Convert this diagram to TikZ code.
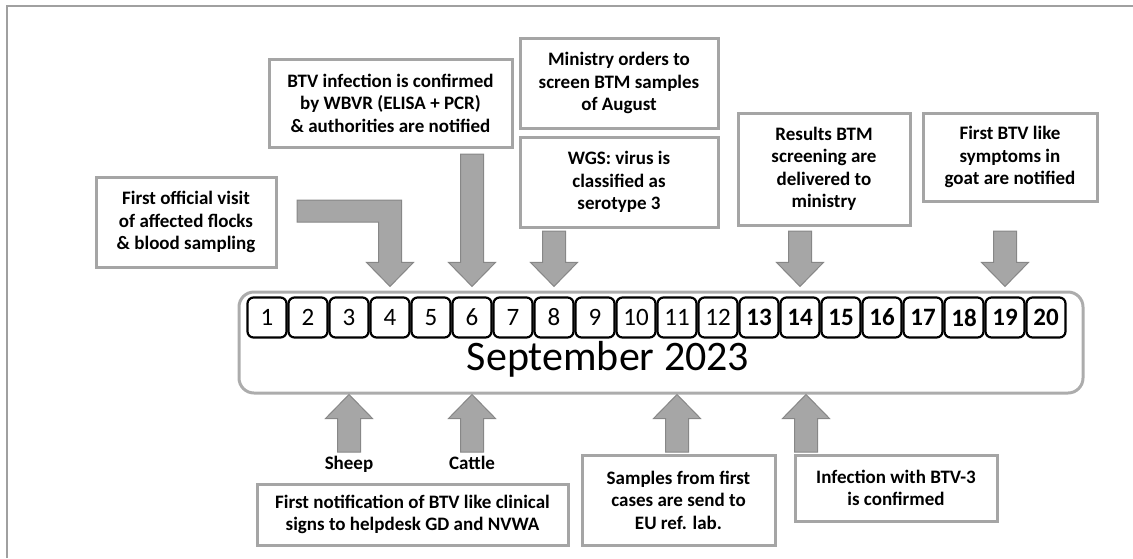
\documentclass[tikz,border=0pt]{standalone}
\usepackage{fontspec}
\setmainfont{Carlito}
\usetikzlibrary{calc}

\definecolor{framegray}{RGB}{160,160,160}
\definecolor{boxgray}{RGB}{165,165,165}
\definecolor{tlgray}{RGB}{172,172,172}
\definecolor{arrfill}{RGB}{166,166,166}
\definecolor{arrline}{RGB}{135,135,135}

\newcommand{\dayfont}{\fontsize{25}{30}\selectfont}
\newcommand{\notefont}{\bfseries\fontsize{19}{22.5}\selectfont}

% block arrow pointing down onto a day, tail at pixel height #2
\newcommand{\arrdown}[2]{%
  \coordinate (tl) at (#1.north |- 0,#2);
  \coordinate (tp) at ($(#1.north)+(0,-10)$);
  \draw[blockarr] ($(tl)+(-11.5,0)$) -- ($(tp)+(-11.5,-24)$) -- ($(tp)+(-23.5,-24)$) -- (tp)
    -- ($(tp)+(23.5,-24)$) -- ($(tp)+(11.5,-24)$) -- ($(tl)+(11.5,0)$) -- cycle;}
% block arrow pointing up onto the timeline under a day
\newcommand{\arrup}[3]{%
  \coordinate (tp) at ($(tline.south -| #1)+(#2,0)$);
  \coordinate (tl) at (tp |- 0,#3);
  \draw[blockarr] ($(tl)+(-11.5,0)$) -- ($(tp)+(-11.5,24)$) -- ($(tp)+(-23.5,24)$) -- (tp)
    -- ($(tp)+(23.5,24)$) -- ($(tp)+(11.5,24)$) -- ($(tl)+(11.5,0)$) -- cycle;}

\begin{document}
\begin{tikzpicture}[x=1pt,y=-1pt,
    note/.style={draw=boxgray, line width=3, fill=white, align=center, inner sep=0, font=\notefont},
    daybox/.style={draw, line width=2.2, fill=white, rounded corners=6, minimum width=39, minimum height=40, inner sep=0},
    blockarr/.style={fill=arrfill, draw=arrline, line width=1},
    lbl/.style={font=\notefont, inner sep=1}]
    \def\dayy{317.5}
    \def\pitch{41}
    \useasboundingbox (0,0) rectangle (1133,558);
    \draw[framegray, line width=2] (7,558) -- (7,6) -- (1133,6);

    \node[draw=tlgray, line width=3, rounded corners=15, minimum width=844, minimum height=101] (tline) at (661,342.5) {};
    \node[anchor=base, font=\fontsize{42}{48}\selectfont] (month) at (608,370) {September 2023};
    \foreach \i in {1,...,12}{
        \pgfmathsetmacro\dx{267+(\i-1)*\pitch}
        \node[daybox, font=\dayfont] (d\i) at (\dx,\dayy) {\i};
    }
    \foreach \i in {13,...,20}{
        \pgfmathsetmacro\dx{267+(\i-1)*\pitch}
        \node[daybox, font=\dayfont\bfseries] (d\i) at (\dx,\dayy) {\i};
    }

    \node[note, minimum width=180, minimum height=90] (visit) at (186,222) {First official visit\\of affected flocks\\\& blood sampling};
    \node[note, minimum width=243, minimum height=88] (btv) at (390.5,103) {BTV infection is confirmed\\by WBVR (ELISA + PCR)\\\& authorities are notified};
    \node[note, minimum width=198, minimum height=90] (ministry) at (619,83) {Ministry orders to\\screen BTM samples\\of August};
    \node[note, minimum width=198, minimum height=90] (wgs) at (619,182) {WGS: virus is\\classified as\\serotype 3};
    \node[note, minimum width=172, minimum height=112] (results) at (824,169) {Results BTM\\screening are\\delivered to\\ministry};
    \node[note, minimum width=174, minimum height=88] (goat) at (1010,157) {First BTV like\\symptoms in\\goat are notified};
    \node[note, minimum width=311, minimum height=61] (notif) at (412.5,514.5) {First notification of BTV like clinical\\signs to helpdesk GD and NVWA};
    \node[note, minimum width=193, minimum height=90] (samples) at (678.5,500) {Samples from first\\cases are send to\\EU ref. lab.};
    \node[note, minimum width=202, minimum height=66] (infect) at (896,488) {Infection with BTV-3\\is confirmed};

    \coordinate (bt) at ($(d4.north)+(0,-10)$);
    \draw[blockarr] (297,200) -- ($(bt |- 0,200)+(11.5,0)$) -- ($(bt)+(11.5,-24)$) -- ($(bt)+(23.5,-24)$) -- (bt)
        -- ($(bt)+(-23.5,-24)$) -- ($(bt)+(-11.5,-24)$) -- ($(bt |- 0,222)+(-11.5,0)$) -- (297,222) -- cycle;
    \arrdown{d6}{154}
    \arrdown{d8}{231}
    \arrdown{d14}{231}
    \arrdown{d19}{231}

    \arrup{d3}{0}{452}
    \arrup{d6}{0}{452}
    \arrup{d11}{0}{452}
    \arrup{d14}{6}{452}
    \node[lbl, anchor=north] (sheep) at ($(tline.south -| d3)+(0,60)$) {Sheep};
    \node[lbl, anchor=north] (cattle) at ($(tline.south -| d6)+(0,60)$) {Cattle};

\end{tikzpicture}
\end{document}
